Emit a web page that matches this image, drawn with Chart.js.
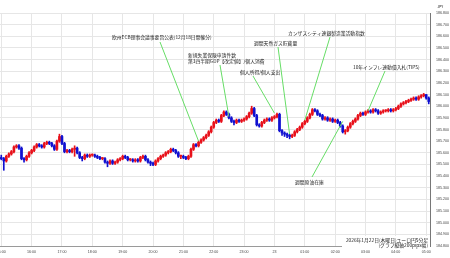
<!DOCTYPE html>
<html>
<head>
<meta charset="utf-8">
<script src="https://cdn.jsdelivr.net/npm/chart.js@4"></script>
<style>
  html, body { margin: 0; padding: 0; background: #fff; }
  #wrap { width: 450px; height: 258px; position: relative; }
  canvas { display: block; }
</style>
</head>
<body>
<div id="wrap"><canvas id="fx" width="450" height="258"></canvas></div>
<script>
// EUR/JPY 5-min candles, 15:00 -> 05:05 (one row per hour)
const opens = [
  185.56, 185.55, 185.53, 185.57, 185.59, 185.61, 185.65, 185.66, 185.64, 185.55, 185.54, 185.57,
  185.60, 185.62, 185.65, 185.67, 185.66, 185.65, 185.68, 185.69, 185.68, 185.66, 185.63, 185.70,
  185.74, 185.68, 185.61, 185.62, 185.61, 185.63, 185.64, 185.60, 185.56, 185.55, 185.58, 185.57,
  185.58, 185.58, 185.57, 185.56, 185.55, 185.55, 185.52, 185.51, 185.53, 185.51, 185.52, 185.54,
  185.55, 185.57, 185.56, 185.54, 185.54, 185.53, 185.54, 185.53, 185.56, 185.57, 185.54, 185.52,
  185.51, 185.50, 185.53, 185.55, 185.57, 185.58, 185.60, 185.61, 185.63, 185.62, 185.60, 185.57,
  185.57, 185.56, 185.55, 185.57, 185.63, 185.67, 185.66, 185.69, 185.71, 185.73, 185.75, 185.78,
  185.82, 185.86, 185.88, 185.87, 185.92, 185.95, 185.93, 185.90, 185.87, 185.86, 185.88, 185.87,
  185.88, 185.89, 185.91, 185.94, 185.98, 185.92, 185.84, 185.83, 185.86, 185.88, 185.89, 185.88,
  185.90, 185.91, 185.93, 185.79, 185.77, 185.76, 185.75, 185.74, 185.75, 185.78, 185.80, 185.82,
  185.85, 185.87, 185.90, 185.93, 185.97, 185.96, 185.93, 185.92, 185.89, 185.90, 185.88, 185.89,
  185.87, 185.88, 185.86, 185.83, 185.78, 185.79, 185.82, 185.85, 185.87, 185.89, 185.92, 185.94,
  185.93, 185.95, 185.96, 185.95, 185.97, 185.96, 185.94, 185.95, 185.96, 185.96, 185.97, 185.96,
  185.97, 185.98, 186.00, 186.02, 186.03, 186.04, 186.05, 186.06, 186.07, 186.06, 186.08, 186.09,
  186.10, 186.07
];
const highs = [
  185.58, 185.56, 185.58, 185.60, 185.62, 185.66, 185.67, 185.67, 185.65, 185.56, 185.58, 185.61,
  185.63, 185.66, 185.68, 185.68, 185.67, 185.69, 185.70, 185.70, 185.69, 185.67, 185.71, 185.76,
  185.75, 185.69, 185.63, 185.63, 185.64, 185.66, 185.65, 185.61, 185.57, 185.59, 185.59, 185.59,
  185.59, 185.59, 185.58, 185.57, 185.56, 185.56, 185.53, 185.54, 185.54, 185.53, 185.55, 185.56,
  185.58, 185.58, 185.57, 185.55, 185.55, 185.55, 185.55, 185.57, 185.58, 185.58, 185.55, 185.53,
  185.52, 185.54, 185.56, 185.58, 185.59, 185.61, 185.62, 185.64, 185.64, 185.63, 185.61, 185.58,
  185.58, 185.57, 185.58, 185.64, 185.68, 185.68, 185.70, 185.72, 185.74, 185.76, 185.79, 185.83,
  185.87, 185.89, 185.89, 185.93, 185.96, 185.96, 185.94, 185.91, 185.88, 185.89, 185.89, 185.89,
  185.90, 185.92, 185.95, 186.00, 185.99, 185.93, 185.85, 185.87, 185.89, 185.90, 185.90, 185.91,
  185.92, 185.94, 185.94, 185.80, 185.78, 185.77, 185.76, 185.76, 185.79, 185.81, 185.83, 185.86,
  185.88, 185.91, 185.94, 185.98, 185.98, 185.97, 185.94, 185.93, 185.91, 185.91, 185.90, 185.90,
  185.89, 185.89, 185.87, 185.84, 185.80, 185.83, 185.86, 185.88, 185.90, 185.93, 185.95, 185.95,
  185.96, 185.97, 185.97, 185.98, 185.98, 185.97, 185.96, 185.97, 185.97, 185.98, 185.98, 185.98,
  185.99, 186.01, 186.03, 186.04, 186.05, 186.06, 186.07, 186.08, 186.08, 186.09, 186.10, 186.11,
  186.10, 186.08
];
const lows = [
  185.54, 185.45, 185.52, 185.56, 185.58, 185.60, 185.64, 185.63, 185.54, 185.52, 185.53, 185.56,
  185.59, 185.61, 185.64, 185.65, 185.64, 185.64, 185.67, 185.67, 185.65, 185.62, 185.62, 185.69,
  185.67, 185.60, 185.60, 185.60, 185.60, 185.57, 185.59, 185.55, 185.53, 185.54, 185.56, 185.56,
  185.57, 185.56, 185.55, 185.54, 185.54, 185.51, 185.48, 185.50, 185.50, 185.50, 185.51, 185.53,
  185.54, 185.55, 185.53, 185.53, 185.52, 185.52, 185.52, 185.52, 185.55, 185.53, 185.51, 185.49,
  185.49, 185.49, 185.52, 185.54, 185.56, 185.57, 185.59, 185.60, 185.61, 185.59, 185.56, 185.55,
  185.55, 185.54, 185.54, 185.56, 185.62, 185.65, 185.65, 185.68, 185.70, 185.72, 185.74, 185.77,
  185.81, 185.85, 185.86, 185.86, 185.91, 185.92, 185.89, 185.86, 185.84, 185.85, 185.86, 185.86,
  185.87, 185.88, 185.90, 185.93, 185.91, 185.83, 185.82, 185.82, 185.85, 185.87, 185.87, 185.87,
  185.89, 185.90, 185.78, 185.75, 185.74, 185.73, 185.72, 185.73, 185.74, 185.77, 185.79, 185.81,
  185.84, 185.86, 185.89, 185.92, 185.95, 185.92, 185.91, 185.88, 185.88, 185.87, 185.87, 185.86,
  185.86, 185.85, 185.82, 185.77, 185.76, 185.78, 185.81, 185.84, 185.86, 185.88, 185.91, 185.92,
  185.92, 185.94, 185.94, 185.94, 185.95, 185.93, 185.93, 185.94, 185.95, 185.95, 185.95, 185.95,
  185.96, 185.97, 185.99, 186.01, 186.02, 186.03, 186.04, 186.05, 186.05, 186.05, 186.07, 186.08,
  186.06, 186.02
];
const closes = [
  185.55, 185.53, 185.57, 185.59, 185.61, 185.65, 185.66, 185.64, 185.55, 185.54, 185.57, 185.60,
  185.62, 185.65, 185.67, 185.66, 185.65, 185.68, 185.69, 185.68, 185.66, 185.63, 185.70, 185.74,
  185.68, 185.61, 185.62, 185.61, 185.63, 185.64, 185.60, 185.56, 185.55, 185.58, 185.57, 185.58,
  185.58, 185.57, 185.56, 185.55, 185.55, 185.52, 185.51, 185.53, 185.51, 185.52, 185.54, 185.55,
  185.57, 185.56, 185.54, 185.54, 185.53, 185.54, 185.53, 185.56, 185.57, 185.54, 185.52, 185.51,
  185.50, 185.53, 185.55, 185.57, 185.58, 185.60, 185.61, 185.63, 185.62, 185.60, 185.57, 185.57,
  185.56, 185.55, 185.57, 185.63, 185.67, 185.66, 185.69, 185.71, 185.73, 185.75, 185.78, 185.82,
  185.86, 185.88, 185.87, 185.92, 185.95, 185.93, 185.90, 185.87, 185.86, 185.88, 185.87, 185.88,
  185.89, 185.91, 185.94, 185.98, 185.92, 185.84, 185.83, 185.86, 185.88, 185.89, 185.88, 185.90,
  185.91, 185.93, 185.79, 185.77, 185.76, 185.75, 185.74, 185.75, 185.78, 185.80, 185.82, 185.85,
  185.87, 185.90, 185.93, 185.97, 185.96, 185.93, 185.92, 185.89, 185.90, 185.88, 185.89, 185.87,
  185.88, 185.86, 185.83, 185.78, 185.79, 185.82, 185.85, 185.87, 185.89, 185.92, 185.94, 185.93,
  185.95, 185.96, 185.95, 185.97, 185.96, 185.94, 185.95, 185.96, 185.96, 185.97, 185.96, 185.97,
  185.98, 186.00, 186.02, 186.03, 186.04, 186.05, 186.06, 186.07, 186.06, 186.08, 186.09, 186.10,
  186.07, 186.04
];

// tick labels on the hour (every 12th candle)
const hourLabels = ['15:00', '16:00', '17:00', '18:00', '19:00', '20:00', '21:00', '22:00',
  '23:00', '23', '01:00', '02:00', '03:00', '04:00', '05:00'];

// economic events: text lines, text spot, line start, candle index + price it points at
const eventTexts = [
  ['欧州ECB理事会議事要旨公表(12月18日開催分)'],
  ['新規失業保険申請件数', '第3四半期GDP【改定値】/個人消費'],
  ['個人所得/個人支出'],
  ['週間天然ガス貯蔵量'],
  ['カンザスシティ連銀製造業活動指数'],
  ['10年インフレ連動債入札(TIPS)'],
  ['週間原油在庫']
];
const eventTextPos = [[112, 37], [188, 55], [240, 72], [254, 43], [288, 33], [353, 67], [295, 182]];
const eventLineStart = [[160, 42], [220, 65], [253, 76], [278, 47], [330, 37], [385, 71], [312, 177]];
const eventIndex = [78, 90, 108, 114, 120, 145, 135];
const eventPrice = [185.70, 185.91, 185.94, 185.76, 185.88, 185.96, 185.87];

const captionLines = ['2026年1月22日(木曜日)ユーロ円5分足', '(グラフ縦軸200pips幅)'];

const UP = '#e8101a';
const DOWN = '#1010d0';
const CJK = '"Noto Sans CJK JP", "Noto Sans", sans-serif';

// category labels for each 5-min slot
const labels = [];
for (let i = 0; i < closes.length; i++) {
    const h = (15 + Math.floor(i / 12)) % 24;
    const m = (i % 12) * 5;
    labels.push(String(h).padStart(2, '0') + ':' + String(m).padStart(2, '0'));
}

const candleColors = closes.map((c, i) => c >= opens[i] ? UP : DOWN);

const annotations = {
    id: 'annotations',
    afterDatasetsDraw(chart) {
        const ctx = chart.ctx;
        const xs = chart.scales.x;
        const ys = chart.scales.y;
        ctx.save();
        // leader lines
        ctx.strokeStyle = '#66dd66';
        ctx.lineWidth = 1;
        eventTexts.forEach((t, k) => {
            ctx.beginPath();
            ctx.moveTo(eventLineStart[k][0], eventLineStart[k][1]);
            ctx.lineTo(xs.getPixelForValue(eventIndex[k]), ys.getPixelForValue(eventPrice[k]));
            ctx.stroke();
        });
        // event text
        ctx.fillStyle = '#222';
        ctx.font = '4.8px ' + CJK;
        ctx.textBaseline = 'middle';
        ctx.textAlign = 'left';
        eventTexts.forEach((t, k) => {
            t.forEach((line, j) => {
                ctx.fillText(line, eventTextPos[k][0], eventTextPos[k][1] + j * 6);
            });
        });
        // caption bottom right
        ctx.textAlign = 'right';
        ctx.fillStyle = '#fff';
        ctx.fillRect(342, 236, 88, 11);
        ctx.fillStyle = '#222';
        ctx.fillText(captionLines[0], 428, 240);
        ctx.fillText(captionLines[1], 428, 245);
        // currency label
        ctx.textAlign = 'left';
        ctx.font = '3.6px ' + CJK;
        ctx.fillText('JPY', 437, 7);
        ctx.restore();
    }
};

const ctx = document.getElementById('fx').getContext('2d');
const fxChart = new Chart(ctx, {
    type: 'bar',
    data: {
        labels: labels,
        datasets: [{
            label: 'wick',
            data: closes.map((c, i) => [lows[i], highs[i]]),
            backgroundColor: candleColors,
            barThickness: 1,
            grouped: false,
            order: 2
        }, {
            label: 'body',
            data: closes.map((c, i) => [opens[i], c]),
            backgroundColor: candleColors,
            barThickness: 2,
            minBarLength: 1,
            grouped: false,
            order: 1
        }]
    },
    options: {
        responsive: false,
        animation: false,
        devicePixelRatio: 1,
        layout: { padding: { top: 13, left: 0, right: 0, bottom: 0 } },
        plugins: { legend: { display: false }, tooltip: { enabled: false } },
        scales: {
            x: {
                offset: true,
                grid: {
                    offset: false,
                    drawTicks: false,
                    color: (c) => (c.index % 12 === 0 ? '#e6e6e6' : 'rgba(0,0,0,0)')
                },
                border: { color: '#9a9a9a' },
                ticks: {
                    autoSkip: false,
                    maxRotation: 0,
                    padding: 4,
                    color: '#444',
                    font: { size: 3.6 },
                    callback: (v, i) => (i % 12 === 0 ? hourLabels[i / 12] : '')
                },
                afterFit: (s) => { s.height = 12; s.paddingLeft = 0; s.paddingRight = 0; }
            },
            y: {
                position: 'right',
                min: 184.8,
                max: 186.8,
                grid: { color: '#e6e6e6', drawTicks: false },
                border: { color: '#777' },
                ticks: {
                    stepSize: 0.1,
                    padding: 6,
                    color: '#444',
                    font: { size: 3.6 },
                    callback: (v) => Number(v).toFixed(3)
                },
                afterFit: (s) => { s.width = 20; }
            }
        }
    },
    plugins: [annotations]
});
</script>
</body>
</html>
